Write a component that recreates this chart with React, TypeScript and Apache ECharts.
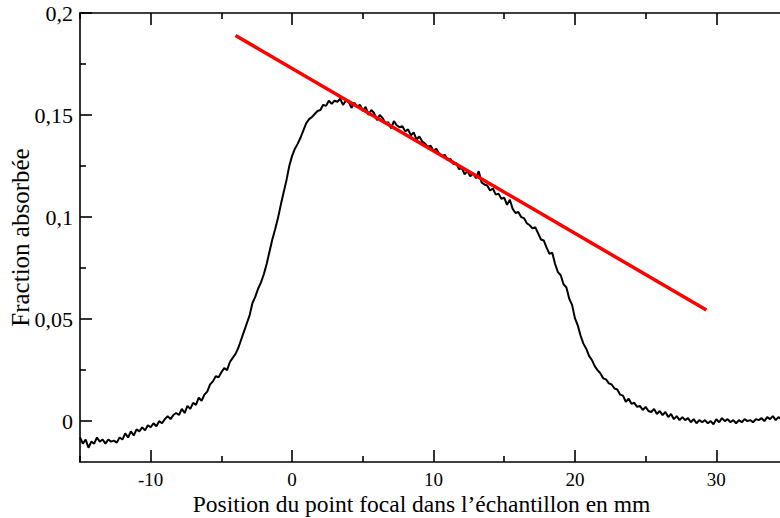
import React, { useEffect, useRef } from "react";
import * as echarts from "echarts";

// Sampling grid of the measured curve (mm)
const sampleStart = -15;
const sampleStep = 0.2;
// Measured absorbed fraction, one value per sample from -15 mm to 35 mm
const absorbedFraction: number[] = [
  -0.008, -0.011, -0.009, -0.013, -0.010, -0.011, -0.008, -0.010, -0.009, -0.011,
  -0.009, -0.010, -0.0095, -0.0105, -0.008, -0.009, -0.006, -0.008, -0.005, -0.007,
  -0.004, -0.005, -0.003, -0.0045, -0.002, -0.003, -0.001, -0.0025, 0.000, -0.001,
  0.001, 0.0025, 0.001, 0.003, 0.004, 0.003, 0.006, 0.004, 0.0075, 0.006,
  0.009, 0.008, 0.0115, 0.010, 0.013, 0.0145, 0.018, 0.0195, 0.022, 0.0215,
  0.024, 0.026, 0.025, 0.029, 0.031, 0.033, 0.036, 0.040, 0.044, 0.048,
  0.052, 0.058, 0.061, 0.065, 0.068, 0.072, 0.077, 0.083, 0.089, 0.094,
  0.0995, 0.106, 0.112, 0.118, 0.125, 0.130, 0.1335, 0.136, 0.139, 0.1425,
  0.146, 0.148, 0.149, 0.1505, 0.152, 0.1525, 0.155, 0.1545, 0.157, 0.1555,
  0.157, 0.1565, 0.158, 0.155, 0.157, 0.1565, 0.1535, 0.156, 0.154, 0.155,
  0.152, 0.154, 0.150, 0.1525, 0.151, 0.1475, 0.150, 0.1485, 0.146, 0.1465,
  0.1435, 0.147, 0.145, 0.144, 0.1445, 0.142, 0.143, 0.140, 0.1415, 0.138,
  0.1395, 0.137, 0.136, 0.1345, 0.135, 0.1325, 0.1335, 0.131, 0.130, 0.1305,
  0.128, 0.1285, 0.126, 0.1265, 0.1235, 0.124, 0.121, 0.1225, 0.120, 0.1215,
  0.119, 0.1225, 0.117, 0.116, 0.1155, 0.113, 0.114, 0.111, 0.1115, 0.109,
  0.1095, 0.106, 0.1085, 0.104, 0.102, 0.1025, 0.100, 0.0995, 0.097, 0.096,
  0.0945, 0.095, 0.092, 0.089, 0.0885, 0.085, 0.082, 0.0825, 0.077, 0.073,
  0.0715, 0.067, 0.0655, 0.060, 0.057, 0.0505, 0.047, 0.042, 0.038, 0.0355,
  0.032, 0.030, 0.027, 0.025, 0.0235, 0.021, 0.0205, 0.0185, 0.018, 0.016,
  0.0155, 0.013, 0.0125, 0.0095, 0.011, 0.0085, 0.009, 0.007, 0.0075, 0.0055,
  0.007, 0.005, 0.0045, 0.006, 0.0035, 0.005, 0.003, 0.0045, 0.002, 0.0035,
  0.001, 0.0025, 0.0005, 0.002, 0.0005, 0.0015, -0.0005, 0.001, -0.001, 0.0005,
  -0.0005, 0.0005, -0.001, 0.000, -0.0015, 0.001, -0.0005, 0.0015, 0.000, 0.001,
  -0.0005, 0.0005, -0.001, 0.0005, -0.0005, 0.001, 0.000, 0.0005, -0.0005, 0.001,
  0.0005, 0.0015, 0.000, 0.002, 0.001, 0.0025, 0.0005, 0.002, 0.001, 0.0025,
  0.0015,
];

// Fitted straight line (red)
const fitX: number[] = [-4, 29.3];
const fitY: number[] = [0.189, 0.0545];

// Axes
const xRange: number[] = [-15, 35];
const yRange: number[] = [-0.02, 0.2];
const xMajorTicks: number[] = [-10, 0, 10, 20, 30];
const xMinorTicks: number[] = [-15, -5, 5, 15, 25, 35];
const yMajorTicks: number[] = [0, 0.05, 0.1, 0.15, 0.2];
const yMinorTicks: number[] = [0.025, 0.075, 0.125, 0.175];

const xTitle = "Position du point focal dans l\u2019échantillon en mm";
const yTitle = "Fraction absorbée";

const FONT = "'Liberation Serif', 'Times New Roman', serif";

export default function App() {
  const ref = useRef<HTMLDivElement>(null);

  useEffect(() => {
    if (!ref.current) return;
    const chart = echarts.init(ref.current, null, { renderer: "svg" });

    const curve = absorbedFraction.map((v, i) => [
      +(sampleStart + i * sampleStep).toFixed(2),
      v,
    ]);
    const fit = fitX.map((x, i) => [x, fitY[i]]);

    const lineStyle = { color: "#000", width: 1.6 };

    const baseX = {
      type: "value" as const,
      min: xRange[0],
      max: xRange[1],
      splitLine: { show: false },
      axisLine: { show: false, onZero: false },
      axisLabel: { show: false },
      axisTick: { show: false },
    };
    const baseY = {
      type: "value" as const,
      min: yRange[0],
      max: yRange[1],
      splitLine: { show: false },
      axisLine: { show: false, onZero: false },
      axisLabel: { show: false },
      axisTick: { show: false },
    };

    chart.setOption({
      animation: false,
      backgroundColor: "#fff",
      grid: {
        left: 80,
        right: -7,
        top: 13,
        bottom: 56,
        containLabel: false,
        outerBoundsMode: "none",
      },
      xAxis: [
        {
          ...baseX,
          position: "bottom",
          axisLine: { show: true, onZero: false, lineStyle },
          axisTick: {
            show: true,
            inside: true,
            length: 12,
            lineStyle,
            customValues: xMajorTicks,
          },
          axisLabel: {
            show: true,
            customValues: xMajorTicks,
            color: "#000",
            fontFamily: FONT,
            fontSize: 19,
            margin: 8,
          },
          name: xTitle,
          nameLocation: "middle",
          nameGap: 30,
          nameMoveOverlap: false,
          nameTextStyle: {
            color: "#000",
            fontFamily: FONT,
            fontSize: 23.5,
            padding: [0, 24, 0, 0],
          },
        },
        {
          ...baseX,
          position: "bottom",
          axisTick: {
            show: true,
            inside: true,
            length: 6,
            lineStyle,
            customValues: xMinorTicks,
          },
        },
        {
          ...baseX,
          position: "top",
          axisLine: { show: true, onZero: false, lineStyle },
          axisTick: {
            show: true,
            inside: true,
            length: 12,
            lineStyle,
            customValues: xMajorTicks,
          },
        },
        {
          ...baseX,
          position: "top",
          axisTick: {
            show: true,
            inside: true,
            length: 6,
            lineStyle,
            customValues: xMinorTicks,
          },
        },
      ],
      yAxis: [
        {
          ...baseY,
          position: "left",
          axisLine: { show: true, onZero: false, lineStyle },
          axisTick: {
            show: true,
            inside: true,
            length: 12,
            lineStyle,
            customValues: yMajorTicks,
          },
          axisLabel: {
            show: true,
            customValues: yMajorTicks,
            color: "#000",
            fontFamily: FONT,
            fontSize: 22,
            margin: 7,
            formatter: (v: number) => String(v).replace(".", ","),
          },
          name: yTitle,
          nameLocation: "middle",
          nameGap: 47,
          nameRotate: 90,
          nameMoveOverlap: false,
          nameTextStyle: {
            color: "#000",
            fontFamily: FONT,
            fontSize: 25,
          },
        },
        {
          ...baseY,
          position: "left",
          axisTick: {
            show: true,
            inside: true,
            length: 6,
            lineStyle,
            customValues: yMinorTicks,
          },
        },
      ],
      series: [
        {
          type: "line",
          xAxisIndex: 0,
          yAxisIndex: 0,
          data: curve,
          showSymbol: false,
          symbol: "none",
          lineStyle: { color: "#000", width: 2 },
          z: 2,
        },
        {
          type: "line",
          xAxisIndex: 0,
          yAxisIndex: 0,
          data: fit,
          showSymbol: false,
          symbol: "none",
          lineStyle: { color: "#ff0000", width: 3.5 },
          z: 3,
        },
      ],
    });

    return () => chart.dispose();
  }, []);

  return (
    <div
      ref={ref}
      style={{ position: "absolute", left: 0, top: 0, width: 780, height: 518 }}
    />
  );
}
